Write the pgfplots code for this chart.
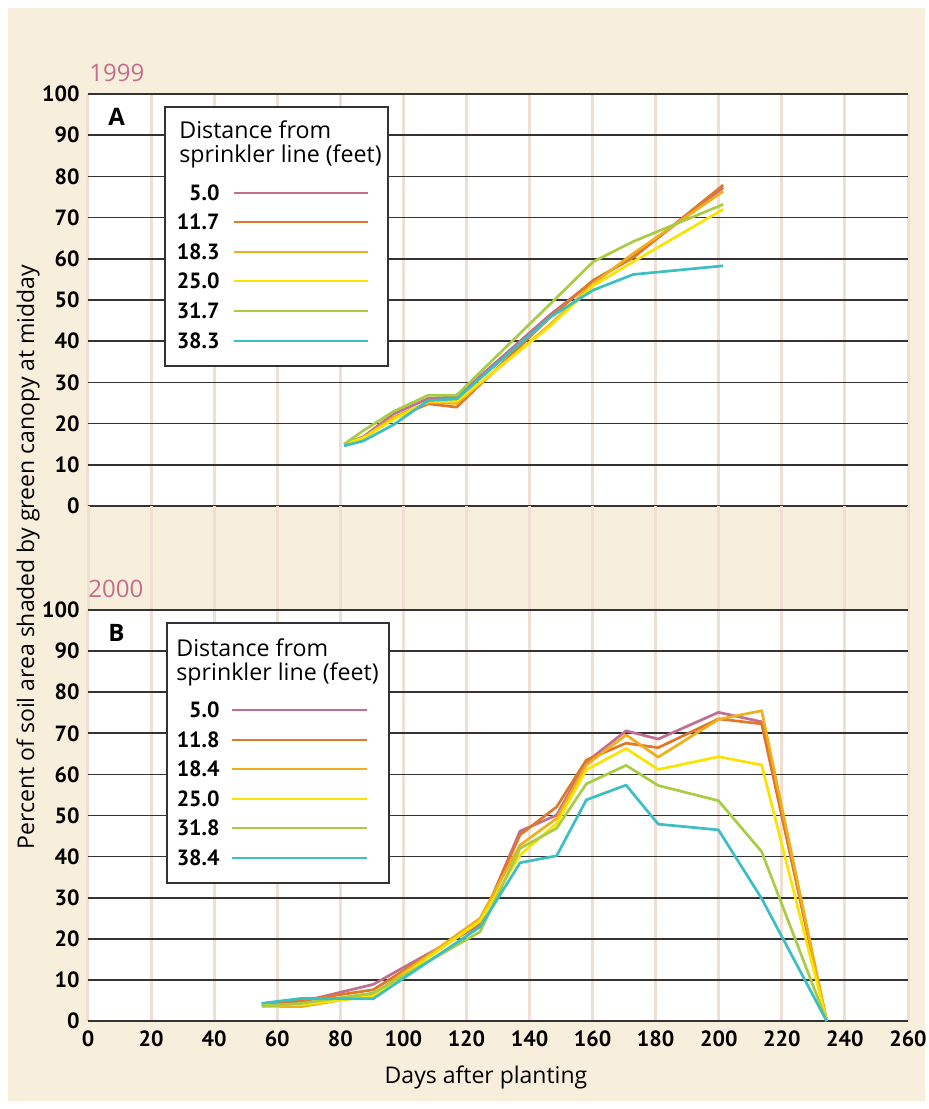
\documentclass[border=0pt]{standalone}
\usepackage{pgfplots}
\pgfplotsset{compat=1.18}
\usepackage{fontspec}
\setmainfont{Open Sans}
\newfontfamily\tickfont{PT Sans}
\definecolor{cream}{HTML}{F8EEDC}
\definecolor{vgrid}{HTML}{EEDFD2}
\definecolor{hgrid}{HTML}{333333}
\definecolor{cpink}{HTML}{C26E8E}
\definecolor{corange}{HTML}{E0782A}
\definecolor{cgold}{HTML}{F0AE1A}
\definecolor{cyellow}{HTML}{FAE300}
\definecolor{cgreen}{HTML}{A8CC44}
\definecolor{ccyan}{HTML}{3CBFC2}
\definecolor{yearpink}{HTML}{C46C8C}
\newcommand{\p}[2]{({(#1)*0.5pt},{-(#2)*0.5pt})}
\pgfplotsset{
  mybase/.style={
    scale only axis, width=410pt, xmin=0, xmax=260,
    xtick={0,20,...,260}, ytick={0,10,...,100},
    xmajorgrids, ymajorgrids,
    x grid style={vgrid, line width=1.5pt},
    y grid style={hgrid, line width=0.85pt},
    axis line style={draw=none},
    major tick length=0pt,
    /pgf/number format/assume math mode=true,
    tick label style={font=\tickfont\bfseries\fontsize{11}{12}\selectfont},
    yticklabel style={inner sep=0pt, xshift=-4pt},
    xticklabel style={inner sep=0pt, yshift=-4.5pt},
    clip=false,
    anchor=north west,
    every axis plot/.append style={line width=1.35pt, line join=round, mark=none},
  }
}
\begin{document}
\begin{tikzpicture}
\fill[white] \p{0}{0} rectangle \p{928}{1109};
\fill[cream] \p{8}{8} rectangle \p{925}{1101};
% top panel (1999)
\begin{axis}[mybase, at={(44pt,-47pt)}, height=206pt, ymin=0, ymax=100,
  xticklabels={}, axis background/.style={fill=white}]
\addplot[cpink] coordinates {(81.2,15.0)(87.3,16.8)(96.8,22.3)(107.9,26.1)(116.9,26.5)(146.5,46.4)(160.2,54.6)(172.9,60.5)(201.4,77.3)};
\addplot[corange] coordinates {(81.2,15.0)(87.3,16.5)(96.8,21.2)(107.9,24.8)(116.9,24.0)(146.5,45.8)(160.2,54.8)(172.9,60.3)(201.4,77.9)};
\addplot[cgold] coordinates {(81.2,15.0)(87.3,16.6)(96.8,21.5)(107.9,25.2)(116.9,24.9)(146.5,44.0)(160.2,54.0)(172.9,61.3)(201.4,76.4)};
\addplot[cyellow] coordinates {(81.2,15.0)(87.3,16.5)(96.8,21.0)(107.9,25.4)(116.9,25.4)(146.5,43.6)(160.2,53.5)(172.9,59.3)(201.4,72.0)};
\addplot[cgreen] coordinates {(81.2,15.0)(87.3,18.3)(96.8,22.9)(107.9,26.9)(116.9,26.9)(146.5,49.0)(160.2,59.3)(172.9,64.2)(201.4,73.2)};
\addplot[ccyan] coordinates {(81.2,14.6)(87.3,15.8)(96.8,19.7)(107.9,25.6)(116.9,26.0)(146.5,45.8)(160.2,52.4)(172.9,56.2)(201.4,58.3)};
\end{axis}
% gap between panels
\begin{axis}[mybase, at={(44pt,-253pt)}, height=52pt, ymin=0, ymax=1,
  ytick=\empty, ymajorgrids=false, xticklabels={}]
\end{axis}
% bottom panel (2000)
\begin{axis}[mybase, at={(44pt,-305pt)}, height=205.5pt, ymin=0, ymax=100,
  axis background/.style={fill=white}]
\addplot[cpink] coordinates {(55.1,4.0)(67.7,4.7)(90.4,8.9)(124.3,23.4)(137,46.2)(148.6,50.1)(158,63.0)(170.6,70.6)(180.8,68.6)(199.9,75.1)(213.6,72.8)(234.2,0)};
\addplot[corange] coordinates {(55.1,4.0)(67.7,5.0)(90.4,7.6)(124.3,23.9)(137,45.3)(148.6,52.1)(158,63.5)(170.6,67.6)(180.8,66.5)(199.9,73.5)(213.6,72.3)(234.2,0)};
\addplot[cgold] coordinates {(55.1,3.6)(67.7,3.5)(90.4,6.4)(124.3,25.0)(137,42.8)(148.6,49.3)(158,62.3)(170.6,69.6)(180.8,64.2)(199.9,73.4)(213.6,75.5)(234.2,0)};
\addplot[cyellow] coordinates {(55.1,3.8)(67.7,4.0)(90.4,6.0)(124.3,24.3)(137,40.4)(148.6,48.1)(158,61.1)(170.6,66.3)(180.8,61.2)(199.9,64.3)(213.6,62.3)(234.2,0)};
\addplot[cgreen] coordinates {(55.1,3.6)(67.7,4.3)(90.4,6.8)(124.3,21.7)(137,42.0)(148.6,46.9)(158,57.7)(170.6,62.2)(180.8,57.3)(199.9,53.6)(213.6,41.2)(234.2,0)};
\addplot[ccyan] coordinates {(55.1,4.3)(67.7,5.5)(90.4,5.4)(124.3,22.9)(137,38.5)(148.6,40.2)(158,53.8)(170.6,57.4)(180.8,47.9)(199.9,46.5)(213.6,29.8)(234.2,0)};
\end{axis}
% year labels and panel letters
\node[anchor=base west, inner sep=0pt, text=yearpink, font=\fontsize{12}{14}\selectfont] at \p{89}{81} {1999};
\node[anchor=base west, inner sep=0pt, text=yearpink, font=\fontsize{12}{14}\selectfont] at \p{88}{597} {2000};
\node[anchor=base west, inner sep=0pt, font=\bfseries\fontsize{12}{14}\selectfont] at \p{108}{125} {A};
\node[anchor=base west, inner sep=0pt, font=\bfseries\fontsize{12}{14}\selectfont] at \p{108}{641} {B};
% legend A
\draw[fill=white, draw=hgrid, line width=0.8pt] \p{165}{107} rectangle \p{388}{366};
\node[anchor=base west, inner sep=0pt, font=\fontsize{11.6}{13}\selectfont] at \p{179}{138} {Distance from};
\node[anchor=base west, inner sep=0pt, font=\fontsize{11.6}{13}\selectfont] at \p{179}{162} {sprinkler line (feet)};
\foreach \lab/\yy/\col in {5.0/193/cpink, 11.7/222/corange, 18.3/252/cgold, 25.0/281/cyellow, 31.7/311/cgreen, 38.3/341/ccyan}{
  \node[anchor=east, inner sep=0pt, font=\tickfont\bfseries\fontsize{11}{12}\selectfont] at \p{220}{\yy} {\lab};
  \draw[\col, line width=1.35pt] \p{234}{\yy} -- \p{368}{\yy};
}
% legend B
\draw[fill=white, draw=hgrid, line width=0.8pt] \p{167}{623} rectangle \p{389}{883};
\node[anchor=base west, inner sep=0pt, font=\fontsize{11.6}{13}\selectfont] at \p{176}{656} {Distance from};
\node[anchor=base west, inner sep=0pt, font=\fontsize{11.6}{13}\selectfont] at \p{176}{680} {sprinkler line (feet)};
\foreach \lab/\yy/\col in {5.0/710/cpink, 11.8/740/corange, 18.4/769/cgold, 25.0/799/cyellow, 31.8/828/cgreen, 38.4/858/ccyan}{
  \node[anchor=east, inner sep=0pt, font=\tickfont\bfseries\fontsize{11}{12}\selectfont] at \p{220}{\yy} {\lab};
  \draw[\col, line width=1.35pt] \p{232}{\yy} -- \p{367}{\yy};
}
% axis labels
\node[rotate=90, inner sep=0pt, font=\fontsize{11.5}{13}\selectfont] at \p{28}{557} {Percent of soil area shaded by green canopy at midday};
\node[inner sep=0pt, font=\fontsize{11.5}{13}\selectfont] at \p{486}{1077} {Days after planting};
\end{tikzpicture}
\end{document}
